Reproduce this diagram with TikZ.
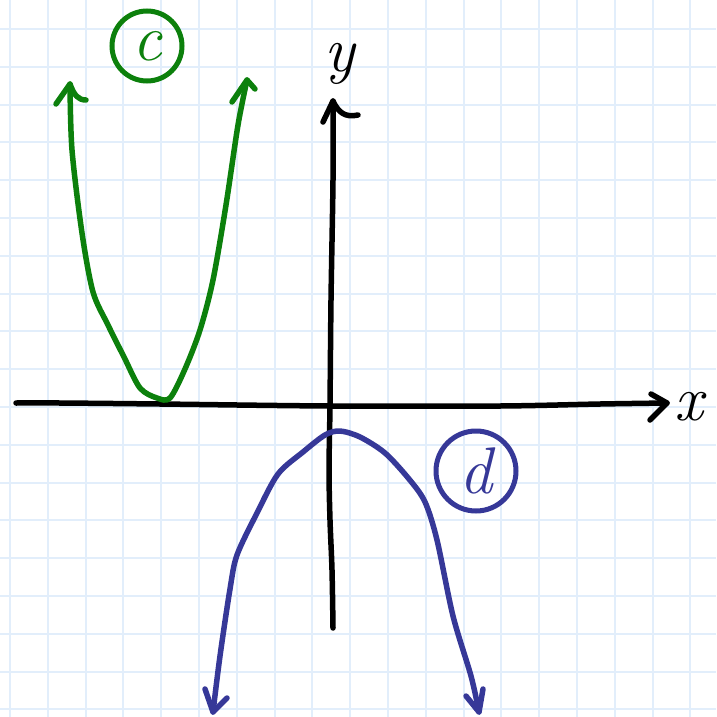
\documentclass[tikz,border=0pt]{standalone}
\usetikzlibrary{arrows.meta}
\definecolor{gridblue}{RGB}{226,238,251}
\definecolor{cgreen}{RGB}{12,128,12}
\definecolor{dblue}{RGB}{54,56,152}
\begin{document}
\begin{tikzpicture}[x=1pt,y=-1pt,
  ink/.style={line width=5.5pt, line cap=round, line join=round},
  gridline/.style={gridblue, line width=2pt},
  lbl/.style={font=\fontsize{64}{64}\selectfont\itshape, inner sep=0pt},
  ring/.style={circle, draw, line width=5pt, inner sep=0pt, font=\fontsize{66}{66}\selectfont\itshape}]
\fill[white] (0,0) rectangle (716,717);
\useasboundingbox (0,0) rectangle (716,717);
% grid
\foreach \k in {0,...,18} {
  \draw[gridline] ({10+37.8*\k},0) -- ++(0,717);
  \draw[gridline] (0,{29+37.8*\k}) -- ++(716,0);
}
% x axis
\coordinate (xs) at (16,403);
\coordinate (xe) at (667,403);
\draw[ink] plot[smooth] coordinates {(xs) (60,403) (160,404) (330,406) (500,406) (600,404) (xe)};
\draw[ink] (651,394) -- (xe) -- (650,420);
\node[lbl] (xl) at (689,407) {x};
% y axis
\coordinate (ys) at (333,628);
\coordinate (ye) at (333,101);
\draw[ink] plot[smooth] coordinates {(ys) (332,570) (330,520) (329,470) (330,405) (331,300) (333,180) (ye)};
\draw[ink] (323,122) -- (ye) .. controls (338,112) and (345,118) .. (358,115);
\node[lbl] (yl) at (340,64) {y};
% green parabola c
\coordinate (cl) at (70,84);
\coordinate (cr) at (247,80);
\draw[ink, cgreen] plot[smooth] coordinates {(cl) (72,150) (82,233) (93,292) (108,325) (124,357) (140,388) (157,398) (170,398) (185,369) (200,330) (213,280) (226,205) (238,125) (cr)};
\draw[ink, cgreen] (56,104) -- (cl) .. controls (74,95) and (78,100) .. (86,100);
\draw[ink, cgreen] (232,102) -- (cr) -- (255,89);
\node[ring, cgreen, minimum size=70pt] (c) at (147,46) {c};
% blue parabola d
\coordinate (dl) at (213,712);
\coordinate (dr) at (479,712);
\draw[ink, dblue] plot[smooth] coordinates {(dl) (220,656) (230,589) (237,555) (257,513) (278,474) (303,452) (325,435) (340,431) (360,437) (385,453) (409,479) (425,502) (437,540) (453,616) (471,676) (dr)};
\draw[ink, dblue] (205,689) -- (dl) -- (227,698);
\draw[ink, dblue] (466,696) -- (dr) -- (483,689);
\node[ring, dblue, minimum size=80pt] (d) at (476,471) {d};
\end{tikzpicture}
\end{document}
